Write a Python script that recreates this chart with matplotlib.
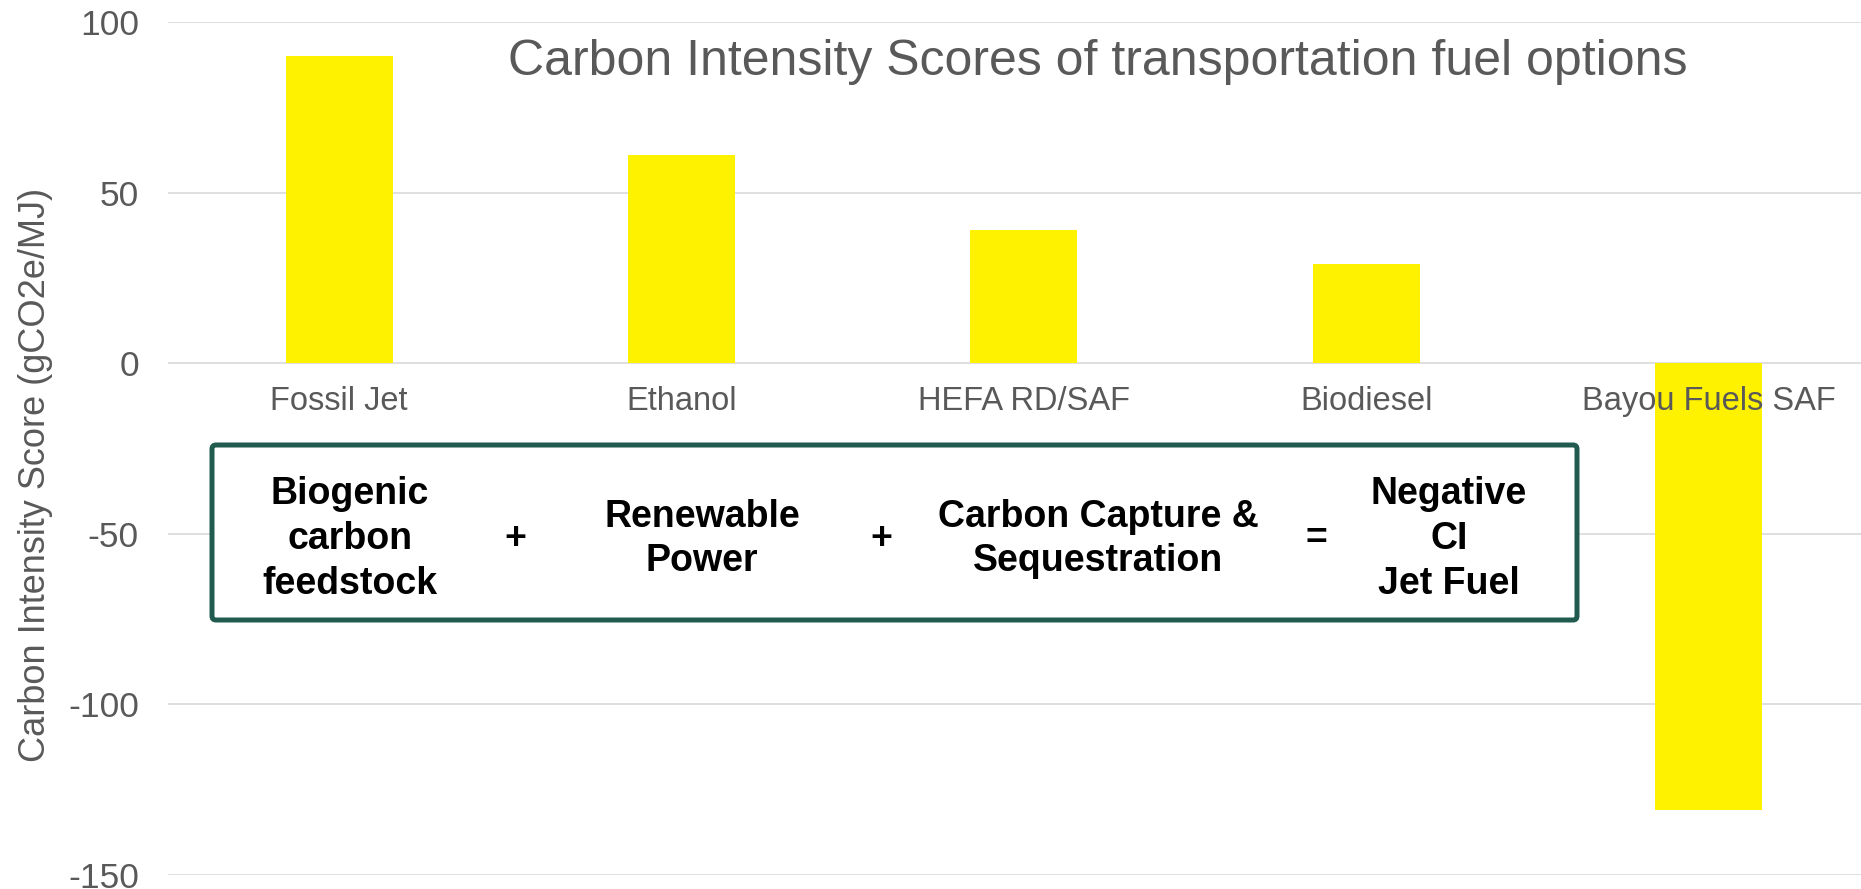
import matplotlib.pyplot as plt
from matplotlib.patches import FancyBboxPatch
from matplotlib.transforms import IdentityTransform

plt.rcParams['font.family'] = ['Liberation Sans', 'DejaVu Sans']
plt.rcParams['axes.unicode_minus'] = False

fuels = ['Fossil Jet', 'Ethanol', 'HEFA RD/SAF', 'Biodiesel', 'Bayou Fuels SAF']
ci_scores = [90, 61, 39, 29, -131]
yticks = [100, 50, 0, -50, -100, -150]

W, H = 1861, 889
grey = '#595959'
fig = plt.figure(figsize=(W / 100, H / 100), dpi=100)
ax = fig.add_axes([168 / W, 14 / H, (W - 168) / W, 853 / H])

ax.bar(range(len(fuels)), ci_scores, width=0.313, color='#FFF200', zorder=2)
ax.set_ylim(-150, 100)
ax.set_xlim(-0.5, 4.4456)
ax.set_yticks(yticks)
ax.grid(axis='y', color='#D9D9D9', linewidth=1.2)
for s in ax.spines.values():
    s.set_visible(False)
ax.spines['bottom'].set_position(('data', 0))
ax.set_xticks(range(len(fuels)))
ax.set_xticklabels(fuels)
ax.tick_params(axis='x', length=0, pad=16.5, labelsize=23.5, labelcolor=grey)
ax.tick_params(axis='y', length=0, pad=21, labelsize=25.5, labelcolor=grey)
ax.xaxis.set_zorder(5)
ax.yaxis.set_zorder(0.5)

ax.set_ylabel('Carbon Intensity Score (gCO2e/MJ)', fontsize=26, color=grey, va='center')
ax.yaxis.set_label_coords(-0.078, 0.469)

fig.text(1098 / W, 1 - 62 / H, 'Carbon Intensity Scores of transportation fuel options',
         fontsize=36, color=grey, ha='center', va='center')

# equation box
box = FancyBboxPatch((212, H - 620), 1577 - 212, 620 - 445,
                     boxstyle='round,pad=0,rounding_size=4',
                     transform=IdentityTransform(), facecolor='white',
                     edgecolor='#215B4F', linewidth=3.6, zorder=3)
fig.add_artist(box)

eq_parts = [(350, 'Biogenic\ncarbon\nfeedstock'), (515, '+'), (702, 'Renewable\nPower'),
            (881, '+'), (1098, 'Carbon Capture &\nSequestration'), (1316, '='),
            (1449, 'Negative\nCI\nJet Fuel')]
for px, txt in eq_parts:
    fig.text(px / W, 1 - 539 / H, txt, fontsize=27, fontweight='bold', color='black',
             ha='center', va='center', multialignment='center', linespacing=1.32, zorder=4)

fig.savefig('out.png', dpi=100)
